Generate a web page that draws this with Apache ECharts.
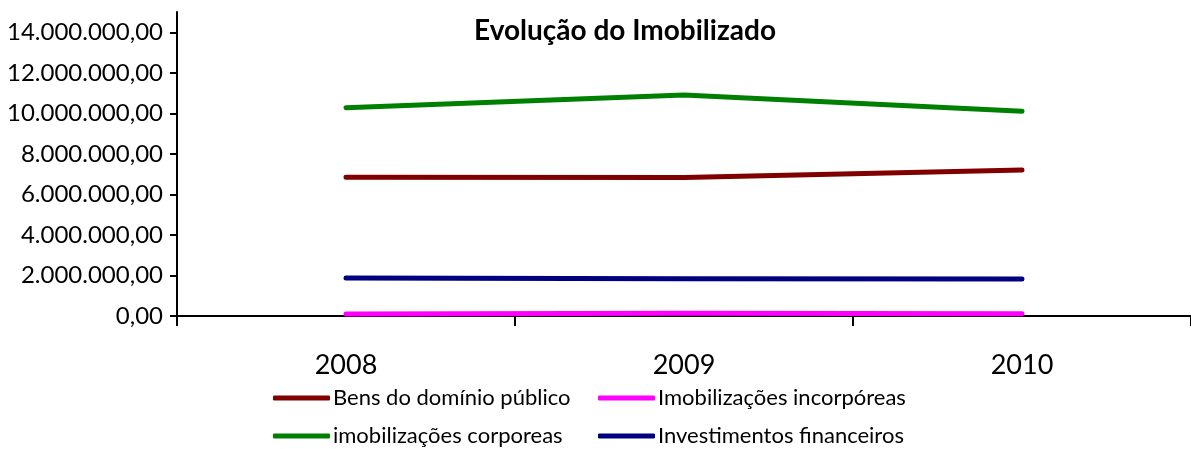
<!DOCTYPE html>
<html>
<head>
<meta charset="utf-8">
<script src="https://cdn.jsdelivr.net/npm/echarts@6/dist/echarts.min.js"></script>
<style>html,body{margin:0;padding:0;background:#fff}#c{width:1191px;height:449px}</style>
</head>
<body>
<div id="c"></div>
<script>
const years = ['2008', '2009', '2010'];
const bensDominioPublico = [6850000, 6830000, 7200000];
const imobIncorporeas = [100000, 130000, 110000];
const imobCorporeas = [10280000, 10900000, 10100000];
const investFinanceiros = [1870000, 1840000, 1830000];
const yTicks = [0, 2000000, 4000000, 6000000, 8000000, 10000000, 12000000, 14000000];
const seriesNames = ['Bens do domínio público', 'Imobilizações incorpóreas', 'imobilizações corporeas', 'Investimentos financeiros'];
const seriesColors = ['#800000', '#FF00FF', '#008000', '#000080'];
const seriesData = [bensDominioPublico, imobIncorporeas, imobCorporeas, investFinanceiros];

const FONT = 'Lato';
function fmt(v) {
  const s = Math.round(v).toString().replace(/\B(?=(\d{3})+(?!\d))/g, '.');
  return s + ',00';
}
const legendPos = [[273, 387], [598, 387], [273, 425], [598, 425]];
const chart = echarts.init(document.getElementById('c'), null, {renderer: 'canvas'});
chart.setOption({
  animation: false,
  backgroundColor: '#fff',
  title: {
    text: 'Evolução do Imobilizado',
    left: 620, top: 12, textAlign: 'center',
    textStyle: {fontFamily: FONT, fontWeight: 'bold', fontSize: 28, color: '#000'}
  },
  legend: seriesNames.map((n, i) => ({
    data: [n], left: legendPos[i][0], top: legendPos[i][1],
    itemWidth: 57, itemHeight: 5, itemGap: 0, padding: 0,
    icon: 'roundRect',
    textStyle: {fontFamily: FONT, fontSize: 22, color: '#000', padding: [0, 0, 0, -2]}
  })),
  grid: {left: 177, top: 12, width: 1018, bottom: 133, containLabel: false},
  xAxis: {
    type: 'category', data: years, boundaryGap: true,
    axisLine: {lineStyle: {color: '#000', width: 2}},
    axisTick: {show: true, length: 10, lineStyle: {color: '#000', width: 2}},
    axisLabel: {fontFamily: FONT, fontSize: 27, color: '#000', margin: 36}
  },
  yAxis: {
    type: 'value', min: 0, max: 15000000, interval: 2000000,
    axisLine: {show: true, lineStyle: {color: '#000', width: 2}},
    axisTick: {show: true, length: 7, customValues: yTicks, lineStyle: {color: '#000', width: 2}},
    axisLabel: {fontFamily: FONT, fontSize: 24, color: '#000', margin: 14, customValues: yTicks, formatter: fmt},
    splitLine: {show: false}
  },
  series: seriesNames.map((n, i) => ({
    name: n, type: 'line', data: seriesData[i],
    symbol: 'none', color: seriesColors[i],
    lineStyle: {width: 5, color: seriesColors[i], cap: 'round', join: 'round'}
  }))
});
</script>
</body>
</html>
